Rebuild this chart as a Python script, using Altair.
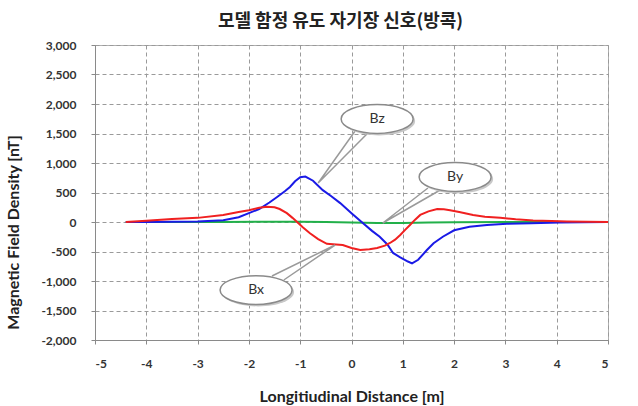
import altair as alt
import pandas as pd

# ---- data ----
bz_x = [-4.4, -4.0, -3.5, -3.0, -2.5, -2.2, -2.0, -1.8, -1.6, -1.45, -1.3, -1.2, -1.1, -1.0, -0.9, -0.75,
        -0.56, -0.4, -0.22, 0.0, 0.22, 0.4, 0.55, 0.7, 0.81, 0.95, 1.1, 1.18, 1.3, 1.47, 1.6, 1.78, 2.0,
        2.3, 2.64, 3.03, 3.5, 4.06, 4.5, 5.0]
bz_v = [0, 0, 5, 10, 30, 80, 150, 220, 330, 424, 520, 593, 690, 760, 770, 700,
        540, 440, 320, 150, -17, -150, -250, -380, -525, -600, -670, -700, -640, -475, -360, -250, -140,
        -80, -50, -30, -20, -10, -5, 0]

bx_x = [-4.4, -4.0, -3.5, -3.0, -2.5, -2.2, -2.0, -1.8, -1.65, -1.5, -1.4, -1.26, -1.15, -1.06, -0.95,
        -0.81, -0.65, -0.48, -0.3, -0.17, 0.0, 0.17, 0.35, 0.5, 0.65, 0.75, 0.85, 0.95, 1.05, 1.14, 1.24,
        1.34, 1.5, 1.67, 1.8, 1.92, 2.1, 2.37, 2.6, 2.9, 3.2, 3.54, 3.9, 4.2, 4.6, 5.0]
bx_v = [0, 20, 50, 70, 120, 170, 200, 240, 260, 250, 220, 150, 70, 0, -90,
        -190, -290, -370, -380, -390, -440, -475, -460, -440, -400, -356, -300, -220, -130, -50, 40,
        120, 180, 220, 215, 200, 170, 120, 90, 70, 45, 25, 15, 10, 5, 0]

by_x = [-4.4, -2.5, -1.5, -1.0, -0.5, 0.0, 0.5, 1.0, 1.5, 2.0, 3.0, 4.0, 5.0]
by_v = [0, 0, 5, 5, 0, -10, -15, -15, -10, -5, 0, 0, 0]

# callouts: label, bubble centre, wedge base points and tip
call_label = ["Bz", "By", "Bx"]
call_cx = [0.50, 2.02, -1.86]
call_cy = [1746, 763, -1153]
base1_x = [0.07, 1.49, -1.55]
base1_y = [1542, 576, -915]
tip_x = [-0.65, 0.61, -0.32]
tip_y = [661, -17, -390]
base2_x = [0.32, 1.73, -1.32]
base2_y = [1508, 542, -983]

title = "모델 함정 유도 자기장 신호(방콕)"
x_title = "Longitiudinal Distance [m]"
y_title = "Magnetic Field Density [nT]"
x_ticks = list(range(-5, 6))
y_ticks = list(range(-2000, 3001, 500))

# ---- tables ----
lines = pd.concat([
    pd.DataFrame({"x": by_x, "v": by_v, "s": "By", "o": 0}),
    pd.DataFrame({"x": bz_x, "v": bz_v, "s": "Bz", "o": 1}),
    pd.DataFrame({"x": bx_x, "v": bx_v, "s": "Bx", "o": 2}),
])
lines["i"] = range(len(lines))

bubbles = pd.DataFrame({"label": call_label, "x": call_cx, "v": call_cy})
wedge_rows = []
for k, lab in enumerate(call_label):
    wedge_rows.append({"label": lab, "k": 0, "x": base1_x[k], "v": base1_y[k]})
    wedge_rows.append({"label": lab, "k": 1, "x": tip_x[k], "v": tip_y[k]})
    wedge_rows.append({"label": lab, "k": 2, "x": base2_x[k], "v": base2_y[k]})
wedges = pd.DataFrame(wedge_rows)

xs = alt.Scale(domain=[-5, 5], nice=False, zero=False)
ys = alt.Scale(domain=[-2000, 3000], nice=False, zero=False)

hyphen_label = "(datum.value < 0 ? '-' : '') + format(abs(datum.value), ',.0f')"

X = alt.X("x:Q", scale=xs, title=x_title,
          axis=alt.Axis(values=x_ticks, labelExpr=hyphen_label, titleY=48))
Y = alt.Y("v:Q", scale=ys, title=y_title,
          axis=alt.Axis(values=y_ticks, labelExpr=hyphen_label, labelPadding=15,
                        titleX=-74, titleY=187))

series = alt.Chart(lines).mark_line(strokeWidth=2).encode(
    x=X, y=Y,
    color=alt.Color("s:N", scale=alt.Scale(domain=["By", "Bz", "Bx"],
                                          range=["#22b04a", "#1a1ae6", "#f02020"]), legend=None),
    detail="o:N",
    order="i:Q",
)

wedge = alt.Chart(wedges).mark_line(color="#9a9a9a", strokeWidth=1.5).encode(
    x=X, y=Y, detail="label:N", order="k:Q",
)

ellipse_path = "M-1,0A1,0.4,0,1,1,1,0A1,0.4,0,1,1,-1,0Z"
shadow = alt.Chart(bubbles).mark_point(
    shape=ellipse_path, size=5184, filled=True, fill="#c8c8c8", opacity=1, xOffset=2, yOffset=2
).encode(x=X, y=Y)
bubble = alt.Chart(bubbles).mark_point(
    shape=ellipse_path, size=5184, filled=True, fill="white", stroke="#8a8a8a", strokeWidth=1.5, opacity=1
).encode(x=X, y=Y)
label = alt.Chart(bubbles).mark_text(font="Lato", fontSize=14, color="#333333").encode(
    x=X, y=Y, text="label:N")

chart = alt.layer(series, wedge, shadow, bubble, label).properties(
    width=513, height=295,
    title=alt.TitleParams(title, font="Noto Sans CJK KR", fontSize=18, fontWeight="bold",
                          color="#222222", anchor="middle", dx=-11, offset=8),
    autosize="none",
    padding={"left": 95, "top": 45, "right": 30, "bottom": 66},
    background="white",
).configure_view(stroke="#b0b0b0", strokeWidth=1).configure_axis(
    grid=True, gridColor="#9a9a9a", gridDash=[4, 3], gridWidth=1,
    domainColor="#8a8a8a", tickColor="#8a8a8a", tickSize=4,
    labelFont="Lato", labelFontSize=12, labelFontWeight="bold", labelColor="#333333",
    labelPadding=14,
    titleFont="Lato", titleFontSize=16, titleFontWeight="bold", titleColor="#222222",
)

chart.save("out.html", embed_options={"renderer": "svg", "actions": False})
